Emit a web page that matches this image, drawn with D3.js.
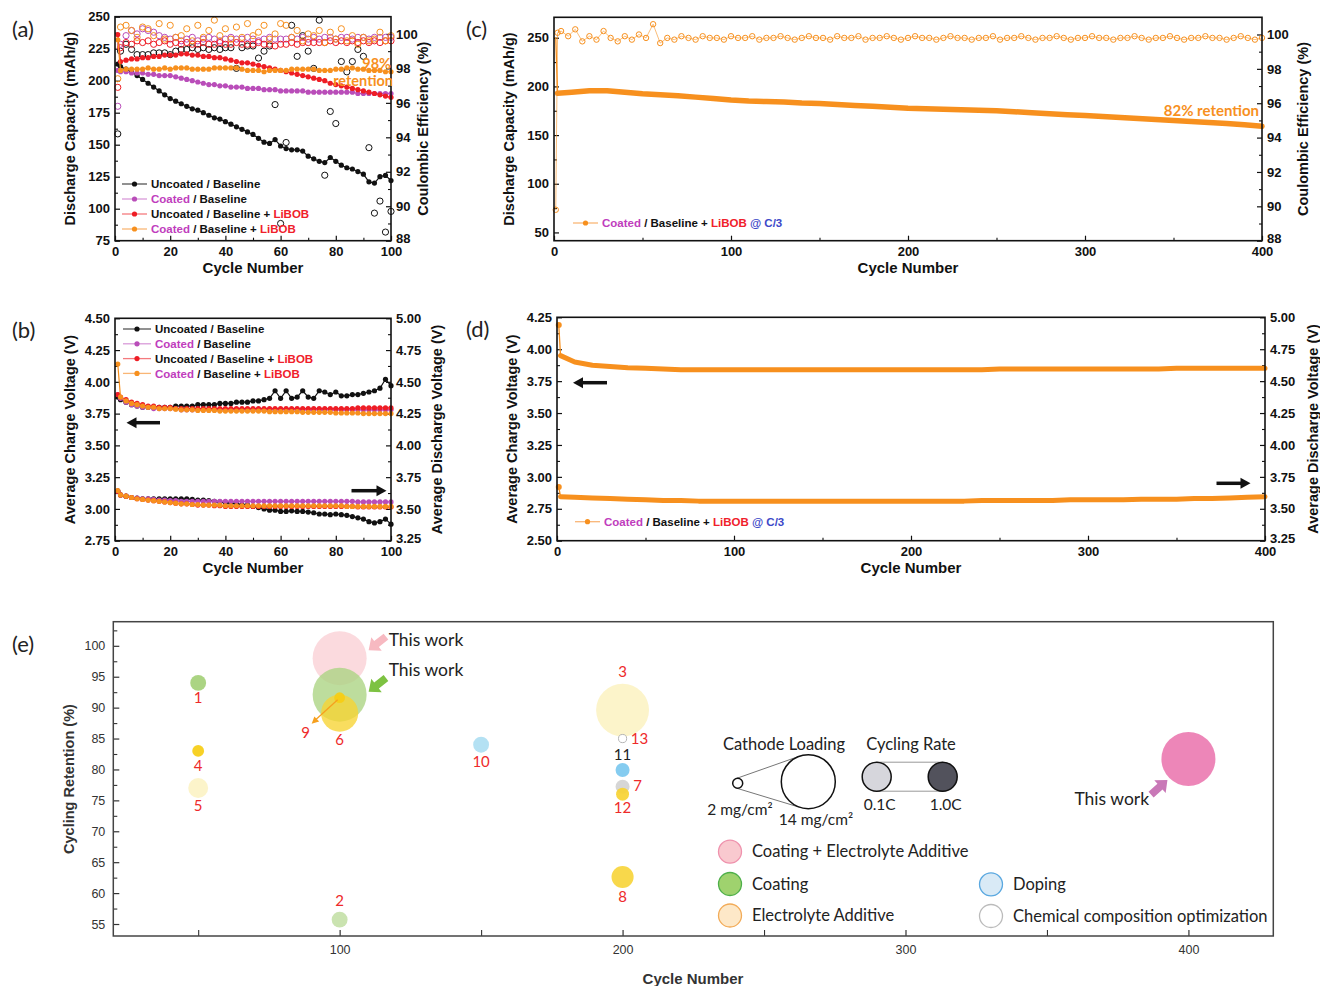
<!DOCTYPE html>
<html lang="en">
<head>
<meta charset="UTF-8">
<title>Cycling performance - coated cathode with LiBOB additive</title>
<script src="https://d3js.org/d3.v7.min.js"></script>
<style>
    body { margin: 0; background: #fff; }
    svg { display: block; }
    text { white-space: pre; }
</style>
</head>
<body>
<svg id="chart" width="1320" height="986"></svg>
<script>
// ---------------- data: panels (a) and (b), 100 cycles ----------------
const cyclesAB = [1, 2, 4, 6, 8, 10, 12, 14, 16, 18, 20, 22, 24, 26, 28, 30, 32, 34, 36, 38,
    40, 42, 44, 46, 48, 50, 52, 54, 56, 58, 60, 62, 64, 66, 68, 70, 72, 74, 76, 78,
    80, 82, 84, 86, 88, 90, 92, 94, 96, 98, 100];

// discharge capacity (mAh/g)
const capUncoated = [213, 211, 209, 207, 204, 201, 198, 195, 192, 189,
    186, 184, 182, 180, 178, 177, 175, 173, 171, 170,
    168, 166, 164, 162, 160, 158, 155, 152, 151, 154,
    149, 147, 146, 146, 145, 141, 139, 137, 136, 140,
    137, 134, 132, 131, 129, 127, 121, 120, 125, 126, 122];
const capCoated = [208, 207, 207, 206, 206, 206, 205, 205, 204, 204,
    204, 203, 202, 201, 200, 199, 198, 197, 197, 196,
    196, 195, 195, 195, 194, 194, 194, 193, 193, 193,
    192, 192, 192, 192, 192, 191, 191, 191, 191, 191,
    191, 191, 191, 191, 190, 190, 190, 190, 190, 190, 190];
const capUncoatedLiBOB = [236, 215, 216, 217, 217, 218, 218, 219, 219, 220,
    220, 220, 221, 221, 220, 220, 219, 219, 218, 218,
    217, 216, 215, 214, 214, 213, 212, 211, 210, 209,
    208, 207, 206, 205, 204, 203, 202, 201, 200, 198,
    197, 196, 195, 194, 193, 192, 191, 190, 189, 188, 187];
const capCoatedLiBOB = [232, 208, 209, 209, 209, 209, 210, 209, 209, 210,
    209, 210, 210, 210, 209, 209, 209, 209, 210, 210,
    210, 210, 210, 209, 208, 208, 208, 207, 208, 208,
    208, 208, 209, 209, 209, 209, 209, 208, 208, 208,
    209, 209, 210, 210, 209, 209, 208, 208, 208, 207, 207];

// coulombic efficiency (%)
const ceUncoated = [94.2, 99.0, 99.4, 99.1, 98.8, 98.8, 98.8, 98.9, 98.9, 98.9,
    98.8, 99.0, 99.1, 99.1, 99.2, 99.1, 99.2, 99.1, 99.2, 99.1,
    99.2, 99.2, 98.0, 99.2, 99.3, 99.3, 98.6, 99.0, 99.3, 95.9,
    89.0, 93.7, 100.5, 98.7, 99.9, 99.0, 98.0, 100.8, 91.8, 95.5,
    94.8, 98.4, 97.8, 98.4, 99.1, 98.7, 93.4, 89.6, 90.3, 88.5, 89.7];
const ceCoated = [95.8, 99.4, 99.9, 100.2, 100.0, 100.3, 100.2, 100.1, 99.9, 99.8,
    99.7, 99.8, 99.6, 99.7, 99.8, 99.6, 99.7, 99.8, 99.7, 99.6,
    99.7, 99.8, 99.7, 99.7, 99.8, 99.7, 99.6, 99.7, 99.8, 99.7,
    99.7, 99.7, 99.8, 99.7, 99.8, 99.7, 99.8, 99.7, 99.8, 99.8,
    99.7, 99.8, 99.8, 99.7, 99.8, 99.8, 99.7, 99.8, 99.8, 99.8, 99.8];
const ceUncoatedLiBOB = [96.9, 99.2, 99.5, 99.4, 99.6, 99.5, 99.6, 99.4, 99.5, 99.6,
    99.4, 99.5, 99.4, 99.5, 99.4, 99.4, 99.5, 99.4, 99.4, 99.5,
    99.4, 99.4, 99.5, 99.4, 99.4, 99.4, 99.5, 99.4, 99.4, 99.3,
    99.4, 99.4, 99.5, 99.4, 99.5, 99.5, 99.5, 99.5, 99.5, 99.6,
    99.5, 99.6, 99.5, 99.6, 99.5, 99.6, 99.5, 99.6, 99.5, 99.6, 99.6];
const ceCoatedLiBOB = [97.4, 100.4, 100.5, 100.2, 99.8, 100.4, 100.3, 99.9, 100.6, 99.7,
    100.5, 99.8, 99.9, 100.3, 99.6, 100.5, 99.8, 100.2, 100.8, 99.9,
    100.3, 99.7, 100.4, 99.8, 100.6, 99.9, 100.1, 100.5, 99.7, 100.0,
    100.6, 100.5, 99.8, 100.2, 99.6, 100.0, 99.9, 100.2, 99.5, 100.1,
    99.7, 100.3, 99.6, 99.9, 99.4, 99.8, 99.6, 99.7, 100.1, 99.6, 99.9];

// average charge voltage (V, left axis)
const chgUncoated = [3.88, 3.86, 3.84, 3.82, 3.81, 3.80, 3.80, 3.80, 3.80, 3.80,
    3.80, 3.81, 3.81, 3.81, 3.81, 3.82, 3.82, 3.82, 3.82, 3.83,
    3.83, 3.83, 3.84, 3.84, 3.84, 3.85, 3.85, 3.86, 3.87, 3.93,
    3.87, 3.93, 3.87, 3.88, 3.93, 3.88, 3.87, 3.93, 3.92, 3.90,
    3.92, 3.89, 3.89, 3.90, 3.90, 3.91, 3.92, 3.93, 3.95, 4.02, 3.97];
const chgCoated = [3.90, 3.87, 3.84, 3.82, 3.81, 3.80, 3.80, 3.79, 3.79, 3.79,
    3.79, 3.79, 3.78, 3.78, 3.78, 3.78, 3.78, 3.78, 3.78, 3.78,
    3.78, 3.78, 3.78, 3.78, 3.78, 3.78, 3.78, 3.78, 3.78, 3.78,
    3.78, 3.78, 3.78, 3.78, 3.78, 3.78, 3.78, 3.78, 3.78, 3.78,
    3.78, 3.78, 3.78, 3.78, 3.78, 3.78, 3.78, 3.78, 3.78, 3.78, 3.78];
const chgUncoatedLiBOB = [3.90, 3.88, 3.86, 3.84, 3.83, 3.82, 3.81, 3.81, 3.80, 3.80,
    3.80, 3.79, 3.79, 3.79, 3.79, 3.79, 3.79, 3.79, 3.79, 3.79,
    3.79, 3.79, 3.79, 3.79, 3.79, 3.79, 3.79, 3.79, 3.79, 3.79,
    3.79, 3.79, 3.79, 3.79, 3.79, 3.79, 3.79, 3.79, 3.79, 3.79,
    3.79, 3.79, 3.79, 3.79, 3.795, 3.795, 3.795, 3.795, 3.795, 3.795, 3.795];
const chgCoatedLiBOB = [4.14, 3.88, 3.85, 3.83, 3.82, 3.81, 3.80, 3.80, 3.79, 3.79,
    3.79, 3.785, 3.78, 3.78, 3.78, 3.775, 3.775, 3.775, 3.775, 3.77,
    3.77, 3.77, 3.77, 3.77, 3.77, 3.77, 3.77, 3.77, 3.765, 3.765,
    3.765, 3.765, 3.765, 3.765, 3.76, 3.76, 3.76, 3.76, 3.76, 3.76,
    3.755, 3.755, 3.755, 3.755, 3.755, 3.75, 3.75, 3.75, 3.75, 3.75, 3.75];

// average discharge voltage (V, right axis)
const dchUncoated = [3.64, 3.61, 3.60, 3.59, 3.585, 3.58, 3.58, 3.58, 3.58, 3.58,
    3.58, 3.58, 3.58, 3.58, 3.575, 3.57, 3.57, 3.565, 3.56, 3.555,
    3.55, 3.545, 3.54, 3.535, 3.53, 3.52, 3.51, 3.50, 3.49, 3.49,
    3.48, 3.48, 3.485, 3.48, 3.48, 3.475, 3.47, 3.46, 3.46, 3.455,
    3.46, 3.455, 3.45, 3.44, 3.43, 3.42, 3.40, 3.39, 3.40, 3.42, 3.38];
const dchCoated = [3.64, 3.61, 3.60, 3.59, 3.585, 3.58, 3.58, 3.575, 3.57, 3.57,
    3.565, 3.565, 3.56, 3.56, 3.56, 3.56, 3.56, 3.56, 3.56, 3.56,
    3.56, 3.56, 3.56, 3.56, 3.56, 3.56, 3.56, 3.56, 3.56, 3.56,
    3.56, 3.56, 3.56, 3.56, 3.56, 3.56, 3.56, 3.56, 3.56, 3.56,
    3.56, 3.56, 3.56, 3.56, 3.555, 3.555, 3.555, 3.555, 3.555, 3.555, 3.555];
const dchUncoatedLiBOB = [3.64, 3.61, 3.60, 3.59, 3.58, 3.575, 3.57, 3.565, 3.56, 3.555,
    3.55, 3.545, 3.54, 3.54, 3.535, 3.53, 3.53, 3.53, 3.525, 3.525,
    3.52, 3.52, 3.52, 3.52, 3.52, 3.52, 3.52, 3.52, 3.52, 3.52,
    3.52, 3.52, 3.52, 3.52, 3.52, 3.52, 3.52, 3.52, 3.52, 3.52,
    3.52, 3.52, 3.52, 3.52, 3.515, 3.515, 3.515, 3.515, 3.515, 3.515, 3.515];
const dchCoatedLiBOB = [3.645, 3.61, 3.60, 3.59, 3.58, 3.575, 3.57, 3.565, 3.56, 3.555,
    3.55, 3.545, 3.54, 3.54, 3.535, 3.535, 3.53, 3.53, 3.53, 3.53,
    3.525, 3.525, 3.525, 3.525, 3.525, 3.525, 3.525, 3.525, 3.525, 3.525,
    3.525, 3.525, 3.525, 3.525, 3.525, 3.525, 3.525, 3.525, 3.525, 3.525,
    3.525, 3.525, 3.52, 3.52, 3.52, 3.52, 3.52, 3.52, 3.52, 3.52, 3.52];

// ---------------- data: panels (c) and (d), 400 cycles at C/3 ----------------
const cyclesCD = [1, 2, 10, 20, 30, 40, 50, 60, 70, 80, 90, 100, 110, 120, 130, 140, 150, 160, 170, 180,
    190, 200, 210, 220, 230, 240, 250, 260, 270, 280, 290, 300, 310, 320, 330, 340, 350, 360, 370, 380, 390, 400];
const capLong = [250, 193, 194, 195.5, 195.5, 194, 192.5, 191.5, 190.5, 189, 187.5, 186,
    185, 184.5, 184, 183, 182.5, 181.5, 180.5, 179.5, 178.5, 177.5,
    177, 176.5, 176, 175.5, 175, 174, 173, 172, 171, 170,
    169, 168, 167, 166, 165, 164, 163, 162, 160.5, 159];
const chgLong = [4.19, 3.95, 3.90, 3.875, 3.865, 3.855, 3.85, 3.845, 3.84, 3.84, 3.84, 3.84,
    3.84, 3.84, 3.84, 3.84, 3.84, 3.84, 3.84, 3.84, 3.84, 3.84,
    3.84, 3.84, 3.84, 3.84, 3.845, 3.845, 3.845, 3.845, 3.845, 3.845,
    3.845, 3.845, 3.845, 3.845, 3.85, 3.85, 3.85, 3.85, 3.85, 3.85];
const dchLong = [3.67, 3.595, 3.59, 3.585, 3.58, 3.575, 3.57, 3.565, 3.565, 3.56, 3.56, 3.56,
    3.56, 3.56, 3.56, 3.56, 3.56, 3.56, 3.56, 3.56, 3.56, 3.56,
    3.56, 3.56, 3.56, 3.565, 3.565, 3.565, 3.565, 3.565, 3.57, 3.57,
    3.57, 3.57, 3.575, 3.575, 3.575, 3.58, 3.58, 3.585, 3.59, 3.595];

const cyclesCeLong = [1, 2, 4, 8, 12, 16, 20, 24, 28, 32, 36, 40,
    44, 48, 52, 56, 60, 64, 68, 72, 76, 80,
    84, 88, 92, 96, 100, 104, 108, 112, 116, 120,
    124, 128, 132, 136, 140, 144, 148, 152, 156, 160,
    164, 168, 172, 176, 180, 184, 188, 192, 196, 200,
    204, 208, 212, 216, 220, 224, 228, 232, 236, 240,
    244, 248, 252, 256, 260, 264, 268, 272, 276, 280,
    284, 288, 292, 296, 300, 304, 308, 312, 316, 320,
    324, 328, 332, 336, 340, 344, 348, 352, 356, 360,
    364, 368, 372, 376, 380, 384, 388, 392, 396, 400];
const ceLong = [89.8, 100.1, 100.2, 99.9, 100.3, 99.6, 99.9, 99.7, 100.2, 99.8, 99.6, 99.9,
    99.7, 100.0, 99.8, 100.6, 99.5, 99.8, 99.7, 99.9, 99.8, 99.7,
    99.9, 99.8, 99.8, 99.7, 99.9, 99.8, 99.8, 99.9, 99.7, 99.8,
    99.8, 99.9, 99.8, 99.7, 99.8, 99.9, 99.8, 99.8, 99.7, 99.9,
    99.8, 99.8, 99.9, 99.7, 99.8, 99.8, 99.9, 99.8, 99.7, 99.8,
    99.9, 99.8, 99.8, 99.7, 99.8, 99.9, 99.8, 99.8, 99.7, 99.8,
    99.8, 99.9, 99.7, 99.8, 99.8, 99.9, 99.8, 99.7, 99.8, 99.8,
    99.9, 99.8, 99.7, 99.8, 99.8, 99.9, 99.8, 99.8, 99.7, 99.8,
    99.8, 99.9, 99.8, 99.7, 99.8, 99.8, 99.9, 99.8, 99.7, 99.8,
    99.8, 99.9, 99.8, 99.8, 99.7, 99.8, 99.9, 99.8, 99.7, 99.8];

// ---------------- data: panel (e), literature comparison ----------------
const bubbleLabel = ["This work", "This work", "1", "2", "3", "4", "5", "6", "7", "8", "9", "10", "11", "12", "13", "This work"];
const bubbleCycles = [100, 100, 50, 100, 200, 50, 50, 100, 200, 200, 100, 150, 200, 200, 200, 400];
const bubbleRetention = [98.0, 92.1, 94.0, 55.7, 89.6, 83.0, 77.0, 89.1, 77.2, 62.6, 91.6, 84.0, 79.9, 76.0, 85.0, 81.7];
const bubbleLoading = [14, 14, 3.6, 3.6, 13.7, 2.5, 4.7, 9.4, 3.1, 5.3, 2.2, 3.6, 3.1, 2.8, 1.5, 14];   // mg/cm2
const bubbleStrategy = ["coatAdd", "coat", "coat", "coat", "add", "add", "add", "add", "chem", "add", "add", "dope", "dope", "add", "chem", "coatAdd"];
const bubbleRate = [0.1, 0.7, 0.8, 0.3, 0.1, 1.0, 0.1, 0.85, 1.0, 0.8, 1.0, 0.3, 0.9, 0.85, 0.1, 1.0];     // C-rate

const strategyNames = ["Coating + Electrolyte Additive", "Coating", "Electrolyte Additive", "Doping", "Chemical composition optimization"];

// tick labels
const ticksCycle100 = [0, 20, 40, 60, 80, 100];
const ticksCycle400 = [0, 100, 200, 300, 400];
const ticksCapacityA = [75, 100, 125, 150, 175, 200, 225, 250];
const ticksCapacityC = [50, 100, 150, 200, 250];
const ticksCE = [88, 90, 92, 94, 96, 98, 100];
const ticksChargeB = [2.75, 3.00, 3.25, 3.50, 3.75, 4.00, 4.25, 4.50];
const ticksChargeD = [2.50, 2.75, 3.00, 3.25, 3.50, 3.75, 4.00, 4.25];
const ticksDischarge = [3.25, 3.50, 3.75, 4.00, 4.25, 4.50, 4.75, 5.00];
const ticksRetention = [55, 60, 65, 70, 75, 80, 85, 90, 95, 100];
const ticksCycleE = [100, 200, 300, 400];

// ---------------- styling ----------------
const AX_FONT = "'Liberation Sans', Arial, sans-serif";
const CAL_FONT = "Lato, 'Open Sans', sans-serif";
const ORANGE = "#f7901e", PURPLE = "#b94db9", RED = "#ee1d25", BLACK = "#111";
const MAGENTA_TXT = "#c03dbd", RED_TXT = "#f0202a", BLUE_TXT = "#3c48c8";

const svg = d3.select("#chart");

function minorTicks(major, domain) {
    const step = major[1] - major[0];
    const lo = Math.min(...domain), hi = Math.max(...domain);
    const out = [];
    for (let v = major[0] - step / 2; v <= major[major.length - 1] + step; v += step) {
        if (v > lo + 1e-6 && v < hi - 1e-6) out.push(v);
    }
    return out;
}

function drawAxis(g, orient, scale, pos, major, fmt, opt) {
    const make = { left: d3.axisLeft, right: d3.axisRight, bottom: d3.axisBottom }[orient];
    const tr = orient === "bottom" ? `translate(0,${pos})` : `translate(${pos},0)`;
    const a = g.append("g").attr("transform", tr)
        .call(make(scale).tickValues(major).tickSize(-opt.major).tickPadding(opt.pad).tickFormat(fmt));
    a.select(".domain").remove();
    a.attr("font-family", AX_FONT).attr("font-size", opt.size).attr("font-weight", opt.weight);
    a.selectAll("text").attr("fill", opt.color);
    a.selectAll("line").attr("stroke", opt.tickColor).attr("stroke-width", 1.2);
    // lowest right-axis label sits a little higher, clear of the x labels
    if (orient === "right") a.select(".tick text").attr("y", -2);
    const m = g.append("g").attr("transform", tr)
        .call(make(scale).tickValues(minorTicks(major, scale.domain())).tickSize(-opt.minor).tickFormat(""));
    m.select(".domain").remove();
    m.selectAll("line").attr("stroke", opt.tickColor).attr("stroke-width", 1.1);
}

function axisTitle(g, text, x, y, rotate, size, fill) {
    g.append("text")
        .attr("transform", `translate(${x},${y})` + (rotate ? " rotate(-90)" : ""))
        .attr("text-anchor", "middle")
        .attr("font-family", AX_FONT).attr("font-weight", "bold")
        .attr("font-size", size).attr("fill", fill || BLACK)
        .text(text);
}

// one framed panel with a left and a right y axis
function makePanel(p) {
    const g = svg.append("g");
    const x = d3.scaleLinear().domain(p.xDomain).range([p.left, p.right]);
    const yL = d3.scaleLinear().domain(p.yLDomain).range([p.bottom, p.top]);
    const yR = d3.scaleLinear().domain(p.yRDomain).range([p.bottom, p.top]);
    const opt = { major: 5, minor: 3, pad: 5, size: 13, weight: "bold", color: BLACK, tickColor: BLACK };
    drawAxis(g, "left", yL, p.left, p.yLTicks, p.yLFormat, opt);
    drawAxis(g, "right", yR, p.right, p.yRTicks, p.yRFormat, opt);
    drawAxis(g, "bottom", x, p.bottom, p.xTicks, d3.format("d"), Object.assign({}, opt, { pad: 6 }));
    const plot = g.append("g");
    g.append("rect")
        .attr("x", p.left).attr("y", p.top)
        .attr("width", p.right - p.left).attr("height", p.bottom - p.top)
        .attr("fill", "none").attr("stroke", BLACK).attr("stroke-width", 1.6);
    axisTitle(g, "Cycle Number", (p.left + p.right) / 2, p.bottom + 32, false, 15);
    axisTitle(g, p.yLTitle, p.left - 40, (p.top + p.bottom) / 2, true, 14.5);
    axisTitle(g, p.yRTitle, p.yRTitleX, (p.top + p.bottom) / 2, true, 14.5);
    g.append("text").attr("x", p.tagX).attr("y", p.top + 20)
        .attr("font-family", CAL_FONT).attr("font-size", 22).attr("fill", "#222")
        .text(p.tag);
    return { g, plot, x, yL, yR };
}

function drawSeries(plot, x, y, cycles, values, color, o) {
    const pts = cycles.map((c, i) => [c, values[i]]);
    if (o.lw) {
        plot.append("path").datum(pts)
            .attr("fill", "none").attr("stroke", o.lineColor || color)
            .attr("stroke-width", o.lw).attr("stroke-linejoin", "round").attr("stroke-linecap", "round")
            .attr("d", d3.line().x(d => x(d[0])).y(d => y(d[1])));
    }
    if (o.r) {
        plot.append("g").selectAll("circle").data(pts).join("circle")
            .attr("cx", d => x(d[0])).attr("cy", d => y(d[1])).attr("r", o.r)
            .attr("fill", o.hollow ? "none" : color)
            .attr("stroke", color).attr("stroke-width", o.hollow ? 1 : 0);
    }
}

function legendRow(g, x0, y, color, lineColor, len, parts, size) {
    g.append("line").attr("x1", x0).attr("x2", x0 + len).attr("y1", y).attr("y2", y)
        .attr("stroke", lineColor).attr("stroke-width", 1.3);
    g.append("circle").attr("cx", x0 + len / 2).attr("cy", y).attr("r", 2.6).attr("fill", color);
    const t = g.append("text").attr("x", x0 + len + 4).attr("y", y).attr("dy", "0.36em")
        .attr("font-family", AX_FONT).attr("font-weight", "bold").attr("font-size", size);
    parts.forEach(([s, c]) => t.append("tspan").attr("fill", c).text(s));
}

function arrow(g, x1, x2, y) {
    // straight black arrow, tip at x2
    const dir = Math.sign(x2 - x1);
    g.append("line").attr("x1", x1).attr("x2", x2 - dir * 8).attr("y1", y).attr("y2", y)
        .attr("stroke", BLACK).attr("stroke-width", 3.5);
    g.append("path").attr("d", `M${x2},${y} L${x2 - dir * 10},${y - 5.5} L${x2 - dir * 10},${y + 5.5} Z`)
        .attr("fill", BLACK);
}

const legendItems = [
    { color: BLACK, line: "#555", parts: [["Uncoated / Baseline", BLACK]] },
    { color: PURPLE, line: "#d99ad9", parts: [["Coated", MAGENTA_TXT], [" / Baseline", BLACK]] },
    { color: RED, line: "#f47a7e", parts: [["Uncoated / Baseline + ", BLACK], ["LiBOB", RED_TXT]] },
    { color: ORANGE, line: "#f9b676", parts: [["Coated", MAGENTA_TXT], [" / Baseline + ", BLACK], ["LiBOB", RED_TXT]] }
];

// ---------------- panel (a) ----------------
const pa = makePanel({
    left: 115, right: 391, top: 16.7, bottom: 240.7,
    xDomain: [0, 100], yLDomain: [75, 250], yRDomain: [88, 101],
    xTicks: ticksCycle100, yLTicks: ticksCapacityA, yRTicks: ticksCE,
    yLFormat: d3.format("d"), yRFormat: d3.format("d"),
    yLTitle: "Discharge Capacity (mAh/g)", yRTitle: "Coulombic Efficiency (%)", yRTitleX: 428,
    tag: "(a)", tagX: 12
});
[[ceUncoated, BLACK], [ceCoated, PURPLE], [ceUncoatedLiBOB, RED], [ceCoatedLiBOB, ORANGE]]
    .forEach(([v, c]) => drawSeries(pa.plot, pa.x, pa.yR, cyclesAB, v, c, { r: 3.1, hollow: true }));
[[capUncoated, BLACK], [capCoated, PURPLE], [capUncoatedLiBOB, RED], [capCoatedLiBOB, ORANGE]]
    .forEach(([v, c]) => drawSeries(pa.plot, pa.x, pa.yL, cyclesAB, v, c, { lw: 1.2, r: 2.6 }));
legendItems.forEach((it, i) => legendRow(pa.g, 122, 184 + i * 15, it.color, it.line, 25, it.parts, 11.5));
pa.g.append("text").attr("x", 391).attr("y", 69).attr("text-anchor", "end")
    .attr("font-family", CAL_FONT).attr("font-size", 14.5).attr("font-weight", "bold").attr("fill", ORANGE).text("98%");
pa.g.append("text").attr("x", 393).attr("y", 86).attr("text-anchor", "end")
    .attr("font-family", CAL_FONT).attr("font-size", 14.5).attr("font-weight", "bold").attr("fill", ORANGE).text("retention");

// ---------------- panel (b) ----------------
const pb = makePanel({
    left: 115, right: 391, top: 318.3, bottom: 540.7,
    xDomain: [0, 100], yLDomain: [2.75, 4.5], yRDomain: [3.25, 5.0],
    xTicks: ticksCycle100, yLTicks: ticksChargeB, yRTicks: ticksDischarge,
    yLFormat: d3.format(".2f"), yRFormat: d3.format(".2f"),
    yLTitle: "Average Charge Voltage (V)", yRTitle: "Average Discharge Voltage (V)", yRTitleX: 442,
    tag: "(b)", tagX: 12
});
const seriesB = [
    [chgUncoated, dchUncoated, BLACK], [chgCoated, dchCoated, PURPLE],
    [chgUncoatedLiBOB, dchUncoatedLiBOB, RED], [chgCoatedLiBOB, dchCoatedLiBOB, ORANGE]
];
seriesB.forEach(([chg, dch, c]) => {
    drawSeries(pb.plot, pb.x, pb.yR, cyclesAB, dch, c, { lw: 1.2, r: 2.6 });
    drawSeries(pb.plot, pb.x, pb.yL, cyclesAB, chg, c, { lw: 1.2, r: 2.6 });
});
legendItems.forEach((it, i) => legendRow(pb.g, 123, 329 + i * 14.8, it.color, it.line, 28, it.parts, 11.5));
arrow(pb.g, 160, 126.5, 422.7);
arrow(pb.g, 351.5, 386.5, 490.7);

// ---------------- panel (c) ----------------
const pc = makePanel({
    left: 554, right: 1262, top: 17.3, bottom: 240.7,
    xDomain: [0, 400], yLDomain: [41.5, 271], yRDomain: [88, 101],
    xTicks: ticksCycle400, yLTicks: ticksCapacityC, yRTicks: ticksCE,
    yLFormat: d3.format("d"), yRFormat: d3.format("d"),
    yLTitle: "Discharge Capacity (mAh/g)", yRTitle: "Coulombic Efficiency (%)", yRTitleX: 1308,
    tag: "(c)", tagX: 466
});
drawSeries(pc.plot, pc.x, pc.yR, cyclesCeLong, ceLong, ORANGE, { lw: 0.6, r: 2.7, hollow: true });
drawSeries(pc.plot, pc.x, pc.yL, cyclesCD, capLong, ORANGE, { lw: 1.3 });
drawSeries(pc.plot, pc.x, pc.yL, cyclesCD.slice(1), capLong.slice(1), ORANGE, { lw: 5.5 });
legendRow(pc.g, 573, 223, ORANGE, "#f9b676", 25,
    [["Coated", MAGENTA_TXT], [" / Baseline + ", BLACK], ["LiBOB", RED_TXT], [" @ C/3", BLUE_TXT]], 11.5);
pc.g.append("text").attr("x", 1259).attr("y", 116).attr("text-anchor", "end")
    .attr("font-family", CAL_FONT).attr("font-size", 15).attr("font-weight", "bold").attr("fill", ORANGE)
    .text("82% retention");

// ---------------- panel (d) ----------------
const pd = makePanel({
    left: 557, right: 1265, top: 317.3, bottom: 540.7,
    xDomain: [0, 400], yLDomain: [2.5, 4.25], yRDomain: [3.25, 5.0],
    xTicks: ticksCycle400, yLTicks: ticksChargeD, yRTicks: ticksDischarge,
    yLFormat: d3.format(".2f"), yRFormat: d3.format(".2f"),
    yLTitle: "Average Charge Voltage (V)", yRTitle: "Average Discharge Voltage (V)", yRTitleX: 1318,
    tag: "(d)", tagX: 466
});
[[chgLong, pd.yL], [dchLong, pd.yR]].forEach(([v, y]) => {
    drawSeries(pd.plot, pd.x, y, cyclesCD, v, ORANGE, { lw: 1.3 });
    drawSeries(pd.plot, pd.x, y, cyclesCD.slice(1), v.slice(1), ORANGE, { lw: 5 });
    drawSeries(pd.plot, pd.x, y, cyclesCD.slice(0, 1), v.slice(0, 1), ORANGE, { r: 3 });
});
legendRow(pd.g, 575, 521.7, ORANGE, "#f9b676", 25,
    [["Coated", MAGENTA_TXT], [" / Baseline + ", BLACK], ["LiBOB", RED_TXT], [" @ C/3", BLUE_TXT]], 11.5);
arrow(pd.g, 607, 573, 382.7);
arrow(pd.g, 1216.5, 1250.5, 483.3);

// ---------------- panel (e) ----------------
const eBox = { left: 113.3, right: 1273.3, top: 621.7, bottom: 936 };
const ge = svg.append("g");
const xe = d3.scaleLinear().domain([20, 430]).range([eBox.left, eBox.right]);
const ye = d3.scaleLinear().domain([53.06, 103.9]).range([eBox.bottom, eBox.top]);
const sizeScale = d3.scaleLinear().domain([2, 14]).range([5, 27]);
const rateScale = d3.scaleLinear().domain([0.1, 1.0]).range([0, 1]).clamp(true);
const strategyColor = {
    coatAdd: ["#fad0d5", "#ec7cb2"],
    coat: ["#d3e8bd", "#96c964"],
    add: ["#fcf3c6", "#f6cd14"],
    dope: ["#bfe6f3", "#72c4ee"],
    chem: ["#ffffff", "#d2d2d2"]
};
const fillFor = i => d3.interpolateRgb(...strategyColor[bubbleStrategy[i]])(rateScale(bubbleRate[i]));
const bubbleOpacity = i => (bubbleLabel[i] === "This work" && bubbleCycles[i] === 100) || bubbleLabel[i] === "6" ? 0.78 : 0.92;

const eOpt = { major: 6, minor: 6, pad: 8, size: 12.5, weight: "normal", color: "#333", tickColor: "#333" };
drawAxis(ge, "left", ye, eBox.left, ticksRetention, d3.format("d"), Object.assign({}, eOpt, { major: 6, minor: 4 }));
drawAxis(ge, "bottom", xe, eBox.bottom, ticksCycleE, d3.format("d"), Object.assign({}, eOpt, { pad: 9 }));
ge.append("rect")
    .attr("x", eBox.left).attr("y", eBox.top)
    .attr("width", eBox.right - eBox.left).attr("height", eBox.bottom - eBox.top)
    .attr("fill", "none").attr("stroke", "#444").attr("stroke-width", 1.5);
axisTitle(ge, "Cycle Number", 693, 984, false, 15, "#333");
axisTitle(ge, "Cycling Retention (%)", 74, 779, true, 14.5, "#333");
ge.append("text").attr("x", 12).attr("y", 652)
    .attr("font-family", CAL_FONT).attr("font-size", 22).attr("fill", "#222").text("(e)");

// bubbles
const idx = d3.range(bubbleLabel.length);
ge.append("g").selectAll("circle").data(idx).join("circle")
    .attr("cx", i => xe(bubbleCycles[i])).attr("cy", i => ye(bubbleRetention[i]))
    .attr("r", i => sizeScale(bubbleLoading[i]))
    .attr("fill", fillFor).attr("fill-opacity", bubbleOpacity)
    .attr("stroke", i => bubbleStrategy[i] === "chem" && bubbleRate[i] < 0.5 ? "#b5b5b5" : "none")
    .attr("stroke-width", 1);

// reference numbers (offsets are layout only)
const labelOffset = { "1": [0, 15], "2": [0, -19], "3": [0, -38], "4": [0, 15], "5": [0, 18], "6": [0, 27],
    "7": [15, -1], "8": [0, 20], "9": [-34, 35], "10": [0, 17], "11": [0, -15], "12": [0, 14], "13": [17, 0] };
idx.filter(i => labelOffset[bubbleLabel[i]]).forEach(i => {
    const [dx, dy] = labelOffset[bubbleLabel[i]];
    ge.append("text")
        .attr("x", xe(bubbleCycles[i]) + dx).attr("y", ye(bubbleRetention[i]) + dy)
        .attr("dy", "0.35em").attr("text-anchor", "middle")
        .attr("font-family", CAL_FONT).attr("font-size", 15)
        .attr("fill", bubbleLabel[i] === "11" ? "#222" : "#ee2a2a")
        .text(bubbleLabel[i]);
});

// orange pointer from ref 9 to its label
const i9 = bubbleLabel.indexOf("9");
const p9 = [xe(bubbleCycles[i9]), ye(bubbleRetention[i9])];
ge.append("line").attr("x1", p9[0] - 2).attr("y1", p9[1] + 2).attr("x2", p9[0] - 24).attr("y2", p9[1] + 22)
    .attr("stroke", "#f6a01e").attr("stroke-width", 1.3);
ge.append("path")
    .attr("d", "M0,0 L-7,-3.5 L-7,3.5 Z").attr("fill", "#f6a01e")
    .attr("transform", `translate(${p9[0] - 28},${p9[1] + 26}) rotate(137)`);

// block arrows + "This work" notes
function blockArrow(x, y, angle, color) {
    ge.append("path")
        .attr("d", "M0,0 L-10,-8.5 L-10,-3.8 L-22,-3.8 L-22,3.8 L-10,3.8 L-10,8.5 Z")
        .attr("fill", color)
        .attr("transform", `translate(${x},${y}) rotate(${angle})`);
}
const twIdx = idx.filter(i => bubbleLabel[i] === "This work");
const noteFont = sel => sel.attr("font-family", CAL_FONT).attr("font-size", 17.5).attr("fill", "#222");
// work at 100 cycles (coating + additive, coating)
[[twIdx[0], "#f7b9c1", -8, -12], [twIdx[1], "#7dc242", -3, -19]].forEach(([i, col, ay, ty]) => {
    const cx = xe(bubbleCycles[i]), cy = ye(bubbleRetention[i]);
    blockArrow(cx + 29, cy + ay, 142, col);
    noteFont(ge.append("text").attr("x", cx + 49).attr("y", cy + ty)).text("This work");
});
{
    const i = twIdx[2];
    const cx = xe(bubbleCycles[i]), cy = ye(bubbleRetention[i]);
    blockArrow(cx - 21, cy + 21, -42, "#c978b7");
    noteFont(ge.append("text").attr("x", cx - 114).attr("y", cy + 46)).text("This work");
}

// legend: cathode loading
const lf = sel => sel.attr("font-family", CAL_FONT).attr("fill", "#222");
lf(ge.append("text").attr("x", 784).attr("y", 750).attr("text-anchor", "middle").attr("font-size", 16.5)).text("Cathode Loading");
const cSmall = [737.7, 783.3], cBig = [808.3, 781.7];
const rS = sizeScale(2), rB = sizeScale(14);
{
    const dx = cBig[0] - cSmall[0], dy = cBig[1] - cSmall[1], d = Math.hypot(dx, dy);
    const base = Math.atan2(dy, dx), a = Math.acos((rS - rB) / d);
    [1, -1].forEach(s => {
        const t = base + s * a;
        ge.append("line")
            .attr("x1", cSmall[0] + rS * Math.cos(t)).attr("y1", cSmall[1] + rS * Math.sin(t))
            .attr("x2", cBig[0] + rB * Math.cos(t)).attr("y2", cBig[1] + rB * Math.sin(t))
            .attr("stroke", "#777").attr("stroke-width", 1);
    });
}
ge.append("circle").attr("cx", cSmall[0]).attr("cy", cSmall[1]).attr("r", rS).attr("fill", "#fff").attr("stroke", "#111").attr("stroke-width", 1.5);
ge.append("circle").attr("cx", cBig[0]).attr("cy", cBig[1]).attr("r", rB).attr("fill", "#fff").attr("stroke", "#111").attr("stroke-width", 1.5);
lf(ge.append("text").attr("x", 740).attr("y", 815).attr("text-anchor", "middle").attr("font-size", 15.5)).text("2 mg/cm²");
lf(ge.append("text").attr("x", 816).attr("y", 825).attr("text-anchor", "middle").attr("font-size", 15.5)).text("14 mg/cm²");

// legend: cycling rate
lf(ge.append("text").attr("x", 911).attr("y", 750).attr("text-anchor", "middle").attr("font-size", 16.5)).text("Cycling Rate");
const rateX = [876.7, 942.7], rateY = 776.7, rateR = 14.5;
[rateY - rateR, rateY + rateR].forEach(y =>
    ge.append("line").attr("x1", rateX[0]).attr("x2", rateX[1]).attr("y1", y).attr("y2", y)
        .attr("stroke", "#999").attr("stroke-width", 1));
[["#d6d6dc", "0.1C"], ["#52525c", "1.0C"]].forEach(([fill, lab], k) => {
    ge.append("circle").attr("cx", rateX[k]).attr("cy", rateY).attr("r", rateR)
        .attr("fill", fill).attr("stroke", "#111").attr("stroke-width", 1.5);
    lf(ge.append("text").attr("x", rateX[k] + 3).attr("y", rateY + 33).attr("text-anchor", "middle").attr("font-size", 15.5)).text(lab);
});

// legend: strategies
const stratKeys = ["coatAdd", "coat", "add", "dope", "chem"];
const stratStyle = [["#f9c9cf", "#ef92ad"], ["#9fd26e", "#4daf4a"], ["#fde8c8", "#f2ab58"], ["#d9eaf6", "#5aa8e0"], ["#ffffff", "#bbbbbb"]];
const stratPos = [[730, 851.7], [730, 884], [730, 915.5], [991, 884.3], [991, 916]];
stratKeys.forEach((k, j) => {
    ge.append("circle").attr("cx", stratPos[j][0]).attr("cy", stratPos[j][1]).attr("r", 11.5)
        .attr("fill", stratStyle[j][0]).attr("stroke", stratStyle[j][1]).attr("stroke-width", 1.3);
    lf(ge.append("text").attr("x", stratPos[j][0] + 22).attr("y", stratPos[j][1]).attr("dy", "0.35em")
        .attr("font-size", 16.5)).text(strategyNames[j]);
});
</script>
</body>
</html>
